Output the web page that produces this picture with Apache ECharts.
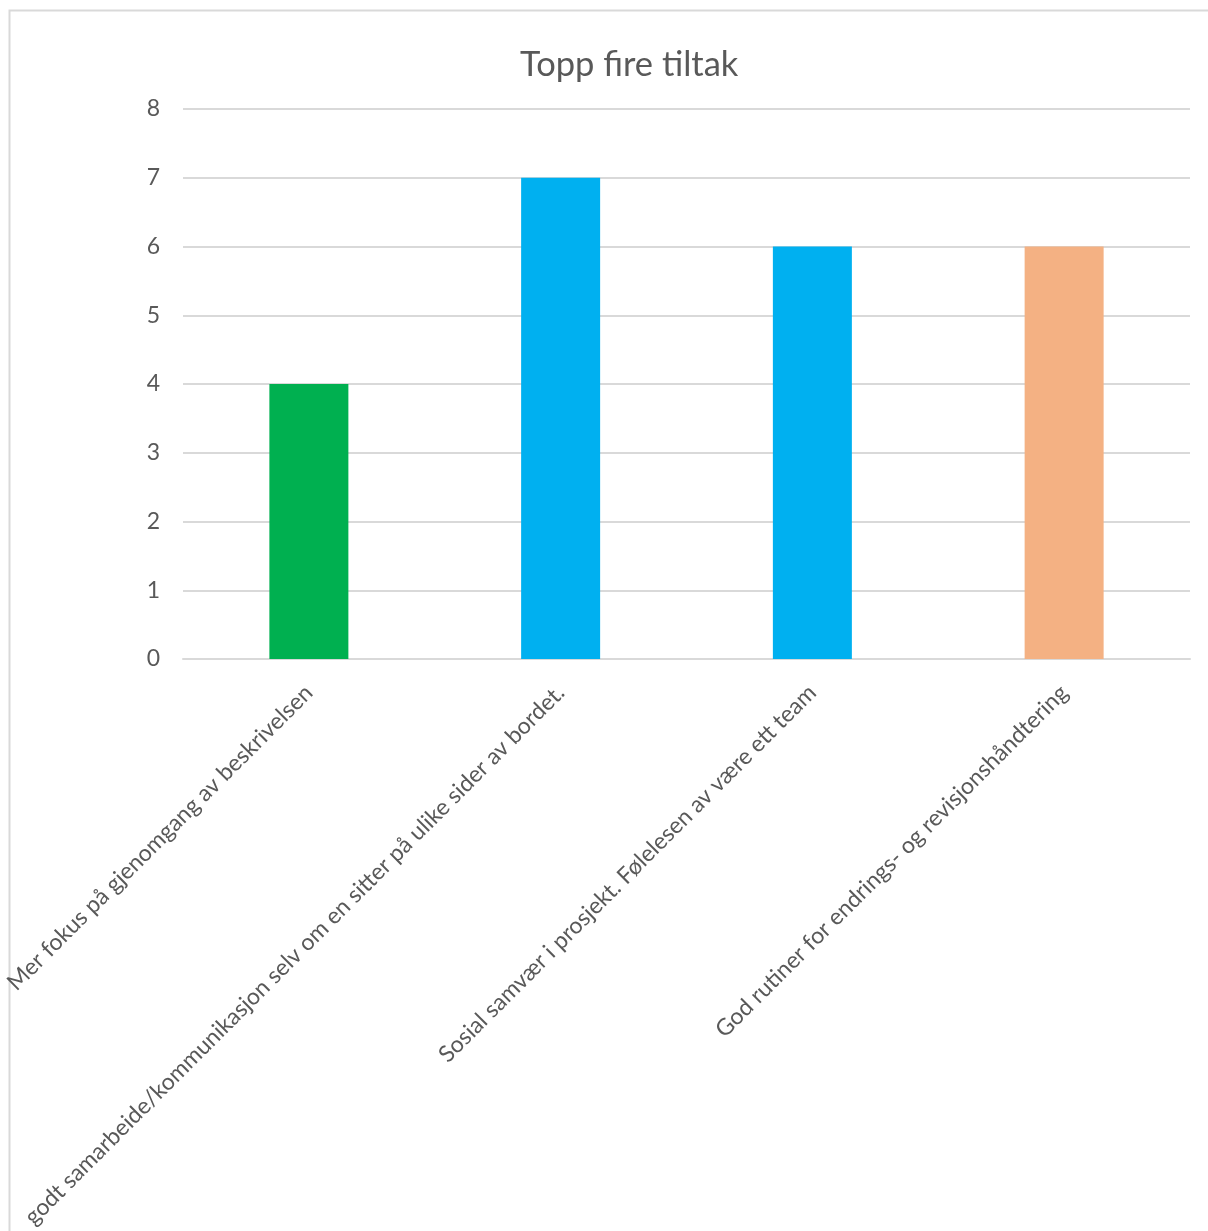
<!DOCTYPE html>
<html>
<head>
<meta charset="utf-8">
<script src="https://cdn.jsdelivr.net/npm/echarts@6/dist/echarts.min.js"></script>
<style>
  html, body { margin: 0; padding: 0; background: #fff; }
  #chart { width: 1208px; height: 1231px; }
</style>
</head>
<body>
<div id="chart"></div>
<script>
const categories = [
  "Mer fokus på gjenomgang av beskrivelsen",
  "godt samarbeide/kommunikasjon selv om en sitter på ulike sider av bordet.",
  "Sosial samvær i prosjekt. Følelesen av være ett team",
  "God rutiner for endrings- og revisjonshåndtering"
];
const values = [4, 7, 6, 6];
const barColors = ["#00B050", "#00B0F0", "#00B0F0", "#F4B183"];
const yTicks = [0, 1, 2, 3, 4, 5, 6, 7, 8];

const font = "Lato, 'Open Sans', sans-serif";
const chart = echarts.init(document.getElementById("chart"));

const option = {
  animation: false,
  graphic: [{
    type: "rect",
    shape: { x: 9.5, y: 10.5, width: 1400, height: 1400 },
    style: { fill: "none", stroke: "#d9d9d9", lineWidth: 2 }
  }],
  title: {
    text: "Topp fire tiltak",
    left: 515,
    top: 42,
    textStyle: { color: "#595959", fontSize: 34.5, fontWeight: "normal", fontFamily: font }
  },
  grid: { left: 183, right: 18, top: 109, bottom: 572, containLabel: false, outerBoundsMode: "none" },
  xAxis: {
    type: "category",
    data: categories,
    axisLine: { lineStyle: { color: "#d9d9d9", width: 2 } },
    axisTick: { show: false },
    axisLabel: {
      rotate: 45,
      interval: 0,
      margin: 30,
      color: "#595959",
      fontSize: 23,
      fontFamily: font
    }
  },
  yAxis: {
    type: "value",
    min: 0,
    max: 8,
    interval: 1,
    axisLine: { show: false },
    axisTick: { show: false },
    splitLine: { lineStyle: { color: "#d9d9d9", width: 2 } },
    axisLabel: {
      margin: 23,
      color: "#595959",
      fontSize: 23,
      fontFamily: font,
      formatter: v => yTicks.includes(v) ? String(v) : ""
    }
  },
  series: [{
    type: "bar",
    barWidth: 79,
    data: values.map((v, i) => ({ value: v, itemStyle: { color: barColors[i] } }))
  }]
};
chart.setOption(option);
</script>
</body>
</html>
